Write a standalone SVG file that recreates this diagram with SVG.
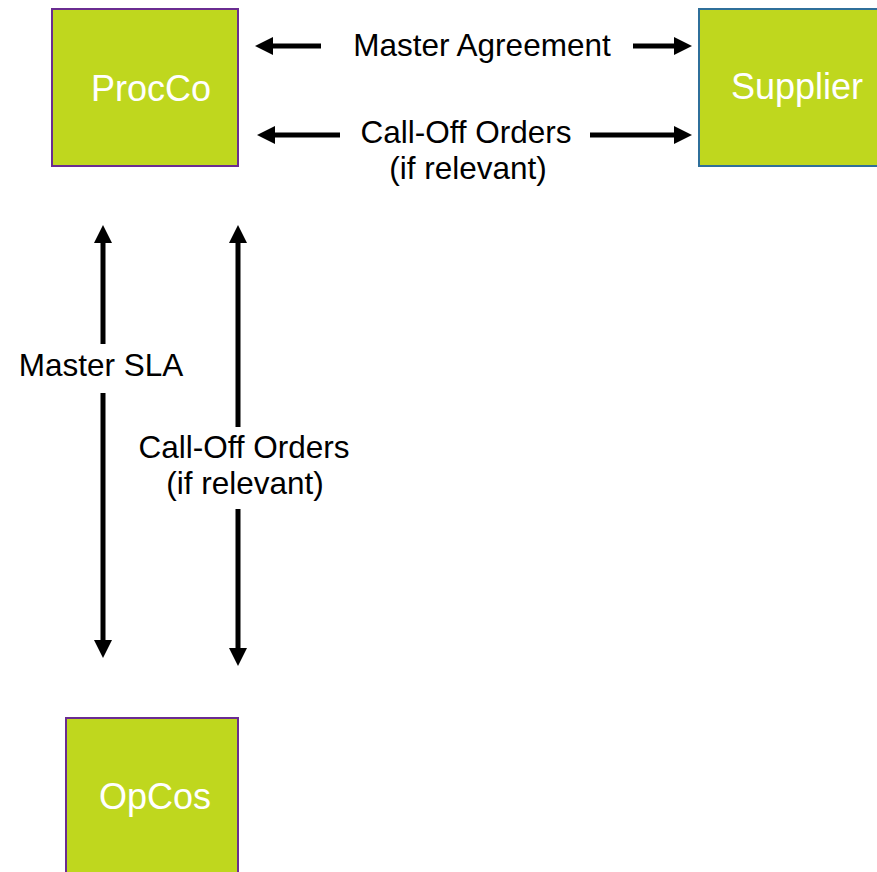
<svg xmlns="http://www.w3.org/2000/svg" width="877" height="872" viewBox="0 0 877 872">
  <style>
    .box { fill: #bfd71e; stroke-width: 2; }
    .procco { stroke: #6a2c91; }
    .supplier { stroke: #2f6f9a; }
    .name { font-family: "Liberation Sans", Arial, sans-serif; font-size: 36px; fill: #ffffff; text-anchor: middle; }
    .lbl { font-family: "Liberation Sans", Arial, sans-serif; font-size: 31.5px; fill: #000000; text-anchor: middle; }
    .conn { stroke: #000000; stroke-width: 5; fill: none; marker-end: url(#head); }
  </style>
  <defs>
    <marker id="head" viewBox="0 -9 18 18" refX="0" refY="0" markerWidth="18" markerHeight="18" markerUnits="userSpaceOnUse" orient="auto">
      <path d="M0,-9 L18,0 L0,9 z" fill="#000000"/>
    </marker>
  </defs>
  <rect width="877" height="872" fill="#ffffff"/>

  <g id="procco">
    <rect class="box procco" x="52" y="9" width="186" height="157"/>
    <text class="name" x="151" y="101">ProcCo</text>
  </g>
  <g id="supplier">
    <rect class="box supplier" x="699" y="9" width="200" height="157"/>
    <text class="name" x="797" y="99">Supplier</text>
  </g>
  <g id="opcos">
    <rect class="box procco" x="66" y="718" width="172" height="170"/>
    <text class="name" x="155" y="809">OpCos</text>
  </g>

  <g id="connectors">
    <!-- ProcCo <-> Supplier: Master Agreement -->
    <path class="conn" d="M321,46 L273,46"/>
    <path class="conn" d="M633,46 L674,46"/>
    <!-- ProcCo <-> Supplier: Call-Off Orders -->
    <path class="conn" d="M340,135 L275,135"/>
    <path class="conn" d="M590,135 L674,135"/>
    <!-- ProcCo <-> OpCos: Master SLA -->
    <path class="conn" d="M103,344 L103,243"/>
    <path class="conn" d="M103,393 L103,640"/>
    <!-- ProcCo <-> OpCos: Call-Off Orders -->
    <path class="conn" d="M238,427 L238,243"/>
    <path class="conn" d="M238,509 L238,648"/>
  </g>

  <g id="labels">
    <text class="lbl" x="482" y="56">Master Agreement</text>
    <text class="lbl" x="466" y="143">Call-Off Orders</text>
    <text class="lbl" x="468" y="179">(if relevant)</text>
    <text class="lbl" x="101" y="376">Master SLA</text>
    <text class="lbl" x="244" y="458">Call-Off Orders</text>
    <text class="lbl" x="245" y="494">(if relevant)</text>
  </g>
</svg>
